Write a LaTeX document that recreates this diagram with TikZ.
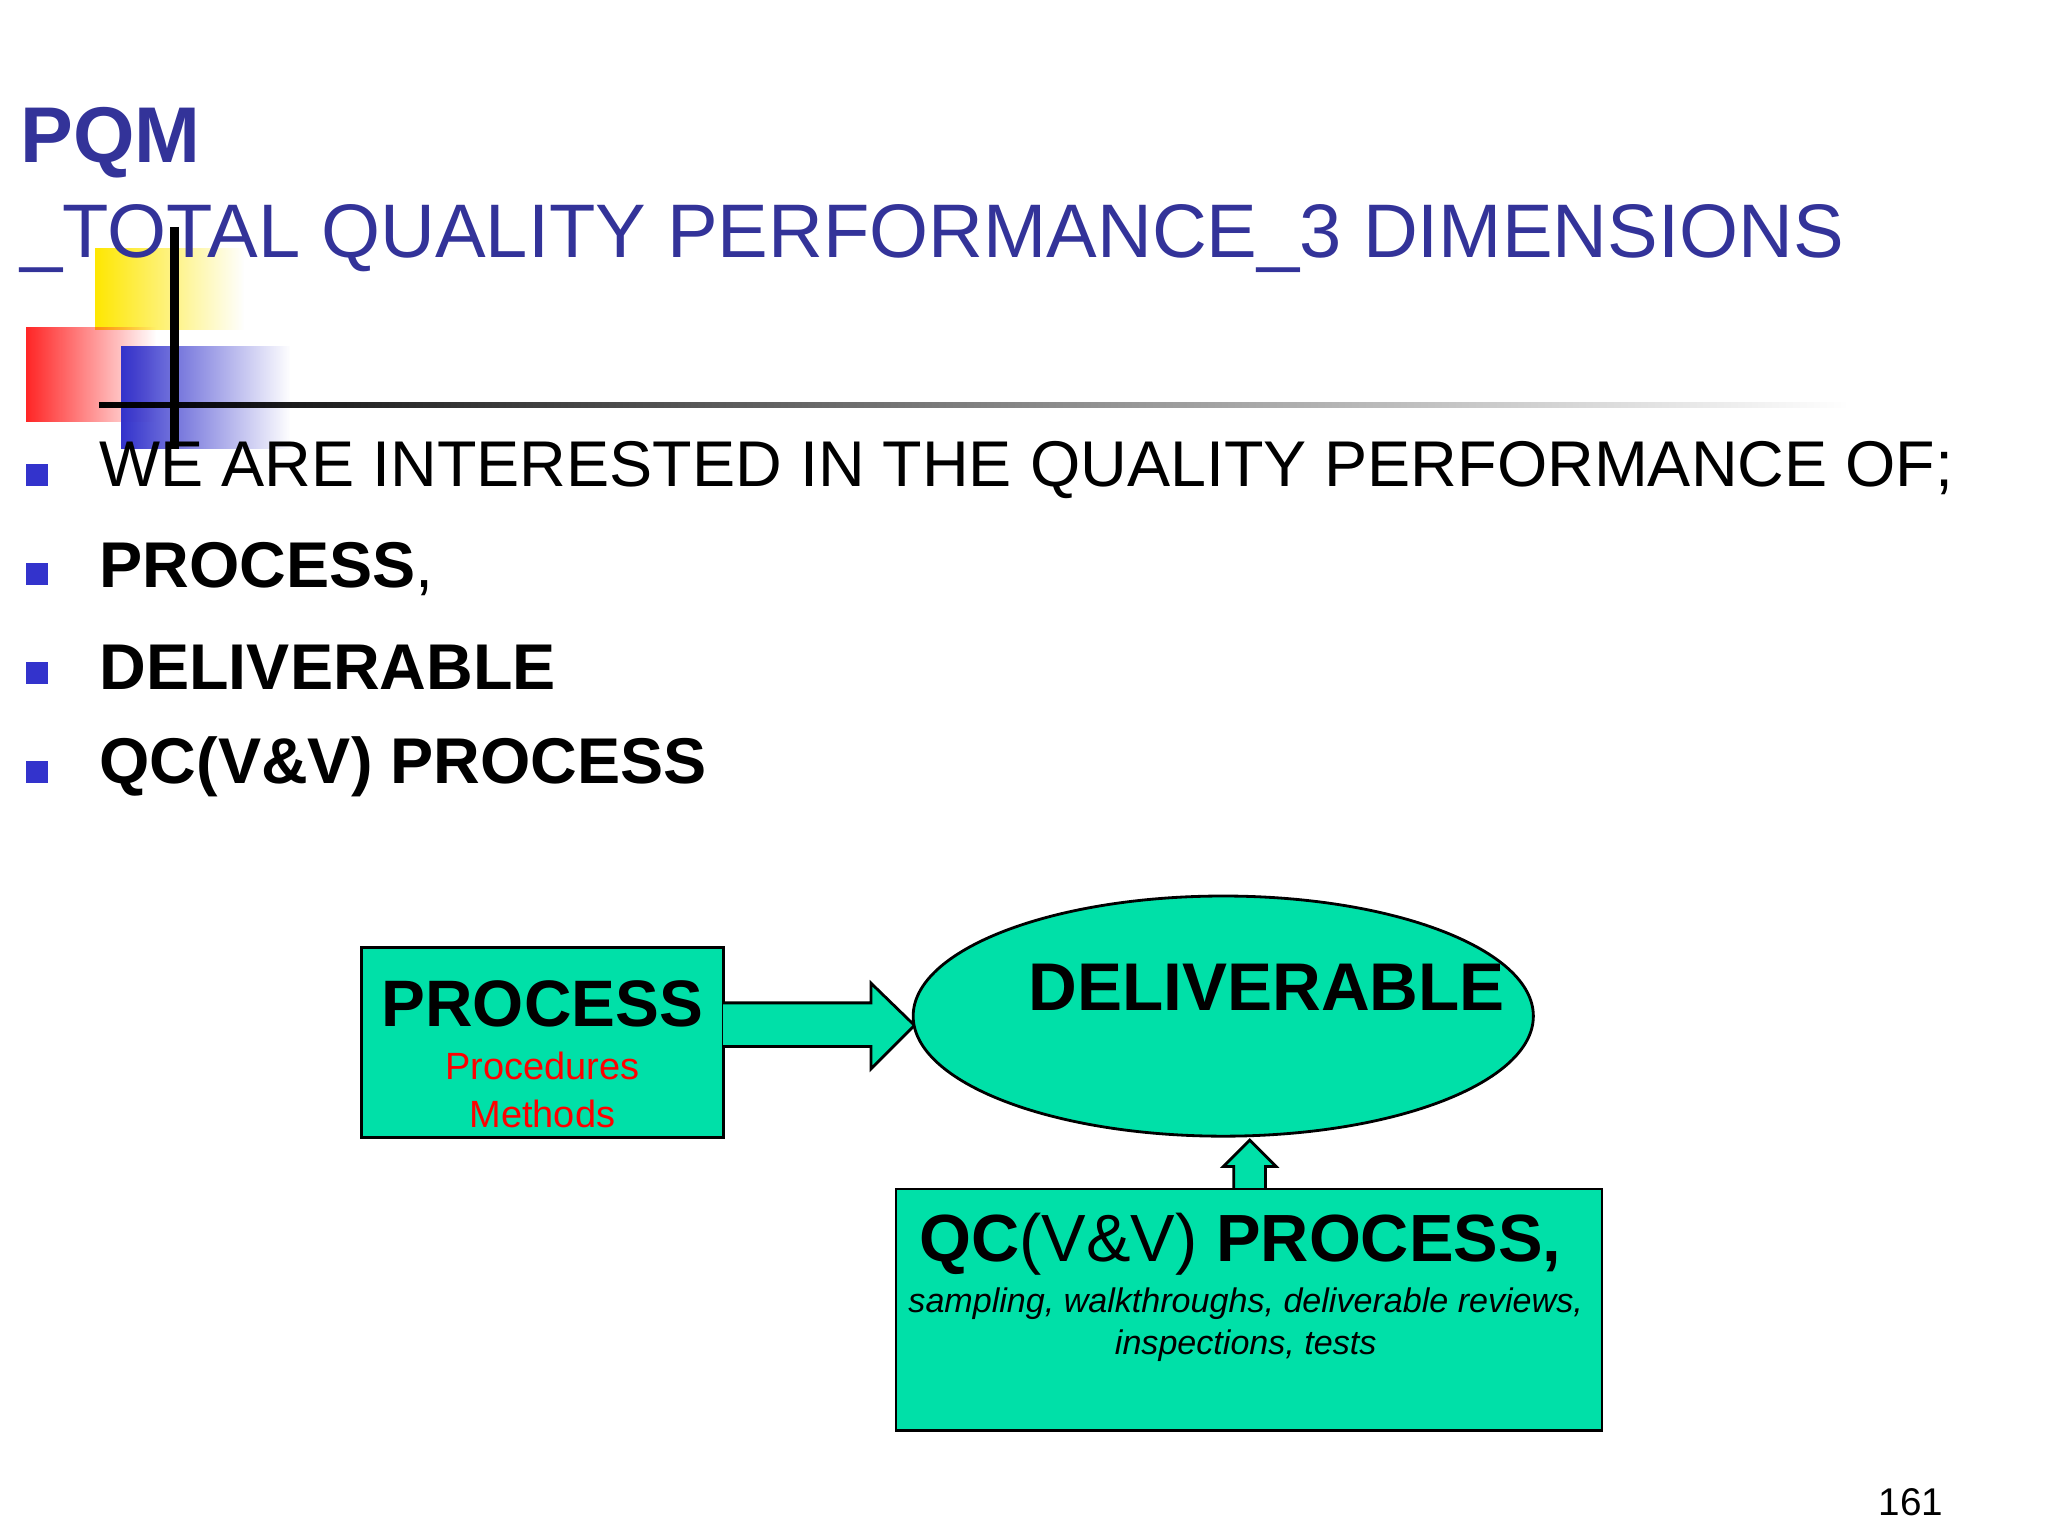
\documentclass[tikz,border=0pt]{standalone}
\usepackage{fontspec}
\setmainfont{Liberation Sans}
\usetikzlibrary{shapes.geometric,fadings}
\definecolor{tblue}{HTML}{333399}
\definecolor{bblue}{HTML}{3333CC}
\definecolor{teal}{HTML}{00E0A8}
\tikzset{
  box/.style={draw=black, fill=teal, line width=0.8pt},
  bul/.style={fill=bblue, minimum size=0.22cm, inner sep=0pt},
  btxt/.style={anchor=west, font=\fontsize{18.4}{22}\selectfont, inner sep=0pt},
}
\begin{document}
\begin{tikzpicture}[x=0.013196cm,y=-0.013196cm]
\useasboundingbox (0,0) rectangle (1552,1164);
\fill[white] (0,0) rectangle (1552,1164);
% decoration
\fill[yellow!90!orange, path fading=east] (72,188) rectangle (185,250);
\fill[red!85!white, path fading=east] (20,248) rectangle (118,320);
\fill[bblue, path fading=east] (92,262) rectangle (220,340);
\fill[black, path fading=east] (75,305) rectangle (1400,309);
\draw[black, line width=2.5pt] (132,172) -- (132,340);
% titles
\node[anchor=west, inner sep=0pt, text=tblue, font=\bfseries\fontsize{22.5}{26}\selectfont] (t1) at (15,108) {PQM};
\node[anchor=west, inner sep=0pt, text=tblue, font=\fontsize{21.6}{26}\selectfont] (t2) at (15,181) {\_TOTAL QUALITY PERFORMANCE\_3 DIMENSIONS};
% bullets
\node[bul] (b1) at (28,360) {};
\node[bul] (b2) at (28,435) {};
\node[bul] (b3) at (28,510) {};
\node[bul] (b4) at (28,585) {};
\node[btxt] (l1) at (75,356) {WE ARE INTERESTED IN THE QUALITY PERFORMANCE OF;};
\node[btxt] (l2) at (75,431) {\textbf{PROCESS},};
\node[btxt] (l3) at (75,506) {\textbf{DELIVERABLE}};
\node[btxt] (l4) at (75,581) {\textbf{QC(V\&V) PROCESS}};
% diagram
\draw[box] (274,718) rectangle (548,862);
\node[font=\bfseries\fontsize{18.7}{22}\selectfont] (pt) at (411,761) {PROCESS};
\node[text=red, font=\fontsize{10.8}{13.5}\selectfont, align=center] (pm) at (411,826) {Procedures\\Methods};
\draw[box] (548,760) -- (660,760) -- (660,745) -- (693,777) -- (660,810) -- (660,793) -- (548,793);
\draw[box] (927,770) ellipse [x radius=235, y radius=91];
\node[font=\bfseries\fontsize{19.2}{22}\selectfont] (dt) at (960,748) {DELIVERABLE};
\draw[box] (935,901) -- (935,884) -- (927,884) -- (947,864) -- (967,884) -- (959,884) -- (959,901);
\draw[box] (679,901) rectangle (1214,1084);
\node[font=\fontsize{19}{22}\selectfont] (qt) at (940,943) {\textbf{QC}(V\&V) \textbf{PROCESS,}};
\node[font=\itshape\fontsize{9.7}{11.8}\selectfont, align=center] (qs) at (944,1004) {sampling, walkthroughs, deliverable reviews,\\inspections, tests};
\node[font=\fontsize{11}{13}\selectfont] (pg) at (1448,1138) {161};
\end{tikzpicture}
\end{document}
